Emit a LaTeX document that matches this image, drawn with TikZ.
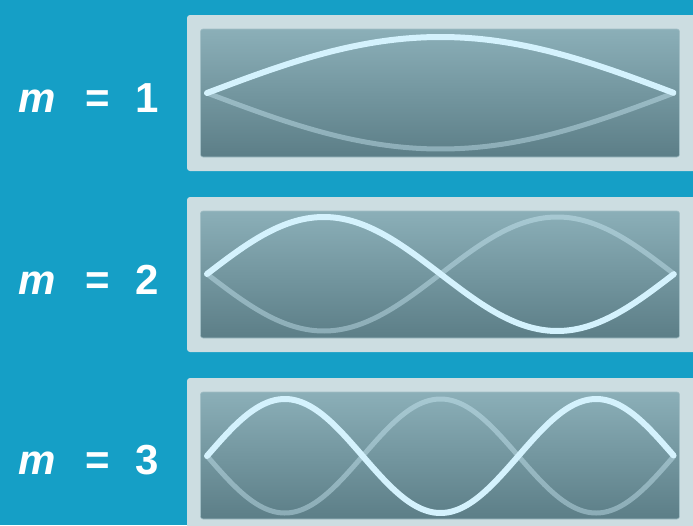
\documentclass[tikz,border=0pt]{standalone}
\usepackage{fontspec}
\setmainfont{Liberation Sans}
\definecolor{bgblue}{HTML}{159FC6}
\definecolor{framec}{HTML}{CCDDE1}
\definecolor{innertop}{HTML}{8BAFB8}
\definecolor{innerbot}{HTML}{5C7E87}
\definecolor{wavec}{HTML}{D4F2FD}
\tikzset{
  framebox/.style={fill=framec, rounded corners=3pt},
  innerbox/.style={top color=innertop, bottom color=innerbot, rounded corners=2.5pt, draw=innertop!80!white, line width=0.6pt},
  brightwave/.style={draw=wavec, line width=6pt, line cap=round, line join=round},
  faintwave/.style={draw=wavec, draw opacity=0.4, line width=5pt, line cap=round, line join=round},
  mlabel/.style={text=white, font=\fontsize{42}{50}\selectfont\bfseries, anchor=base west, inner sep=0pt}
}
\newcommand{\mtext}[1]{\textit{m}\hspace{30pt}=\hspace{25pt}#1}
\begin{document}
\begin{tikzpicture}[x=1pt, y=-1pt]
\fill[bgblue] (0,0) rectangle (693,525);
\useasboundingbox (0,0) rectangle (693,525);
% panel 1
\path[framebox] (187,15) rectangle (705,171);
\path[innerbox] (200.5,29) rectangle (679.5,157);
\draw[faintwave] plot[domain=0:1, samples=120] ({207+467*\x}, {93+56*sin(180*\x)});
\draw[brightwave] plot[domain=0:1, samples=120] ({207+467*\x}, {93-56*sin(180*\x)});
\node[mlabel] (m1) at (18,112) {\mtext{1}};
% panel 2
\path[framebox] (187,197) rectangle (705,352);
\path[innerbox] (200.5,211) rectangle (679.5,338);
\draw[faintwave] plot[domain=0:1, samples=160] ({207+467*\x}, {274+57*sin(360*\x)});
\draw[brightwave] plot[domain=0:1, samples=160] ({207+467*\x}, {274-57*sin(360*\x)});
\node[mlabel] (m2) at (18,294) {\mtext{2}};
% panel 3
\path[framebox] (187,378) rectangle (705,540);
\path[innerbox] (200.5,392) rectangle (679.5,519);
\draw[faintwave] plot[domain=0:1, samples=200] ({207+467*\x}, {456+57*sin(540*\x)});
\draw[brightwave] plot[domain=0:1, samples=200] ({207+467*\x}, {456-57*sin(540*\x)});
\node[mlabel] (m3) at (18,474) {\mtext{3}};
\end{tikzpicture}
\end{document}
